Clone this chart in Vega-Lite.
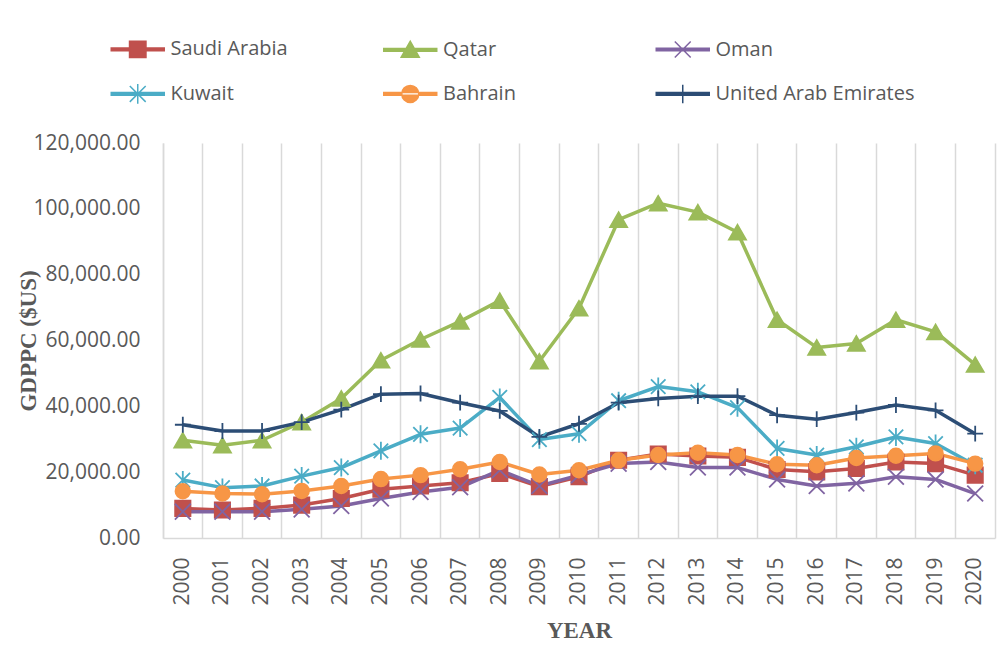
{
  "$schema": "https://vega.github.io/schema/vega-lite/v6.json",
  "width": 832,
  "height": 395,
  "autosize": {"type": "none"},
  "padding": {"left": 163, "top": 143, "right": 12, "bottom": 110},
  "background": "white",
  "config": {"view": {"stroke": null}, "font": "Open Sans"},
  "data": {"values": [
    {"year": "2000", "country": "Saudi Arabia", "gdppc": 9000},
    {"year": "2001", "country": "Saudi Arabia", "gdppc": 8500},
    {"year": "2002", "country": "Saudi Arabia", "gdppc": 9000},
    {"year": "2003", "country": "Saudi Arabia", "gdppc": 10000},
    {"year": "2004", "country": "Saudi Arabia", "gdppc": 12000},
    {"year": "2005", "country": "Saudi Arabia", "gdppc": 14800},
    {"year": "2006", "country": "Saudi Arabia", "gdppc": 15800},
    {"year": "2007", "country": "Saudi Arabia", "gdppc": 16800},
    {"year": "2008", "country": "Saudi Arabia", "gdppc": 19600},
    {"year": "2009", "country": "Saudi Arabia", "gdppc": 15600},
    {"year": "2010", "country": "Saudi Arabia", "gdppc": 18600},
    {"year": "2011", "country": "Saudi Arabia", "gdppc": 23600},
    {"year": "2012", "country": "Saudi Arabia", "gdppc": 25500},
    {"year": "2013", "country": "Saudi Arabia", "gdppc": 24900},
    {"year": "2014", "country": "Saudi Arabia", "gdppc": 24500},
    {"year": "2015", "country": "Saudi Arabia", "gdppc": 20800},
    {"year": "2016", "country": "Saudi Arabia", "gdppc": 20100},
    {"year": "2017", "country": "Saudi Arabia", "gdppc": 21100},
    {"year": "2018", "country": "Saudi Arabia", "gdppc": 23100},
    {"year": "2019", "country": "Saudi Arabia", "gdppc": 22600},
    {"year": "2020", "country": "Saudi Arabia", "gdppc": 19100},
    {"year": "2000", "country": "Qatar", "gdppc": 29700},
    {"year": "2001", "country": "Qatar", "gdppc": 28200},
    {"year": "2002", "country": "Qatar", "gdppc": 29700},
    {"year": "2003", "country": "Qatar", "gdppc": 35200},
    {"year": "2004", "country": "Qatar", "gdppc": 42400},
    {"year": "2005", "country": "Qatar", "gdppc": 54000},
    {"year": "2006", "country": "Qatar", "gdppc": 60300},
    {"year": "2007", "country": "Qatar", "gdppc": 65800},
    {"year": "2008", "country": "Qatar", "gdppc": 72100},
    {"year": "2009", "country": "Qatar", "gdppc": 53700},
    {"year": "2010", "country": "Qatar", "gdppc": 69800},
    {"year": "2011", "country": "Qatar", "gdppc": 96700},
    {"year": "2012", "country": "Qatar", "gdppc": 101700},
    {"year": "2013", "country": "Qatar", "gdppc": 99000},
    {"year": "2014", "country": "Qatar", "gdppc": 92900},
    {"year": "2015", "country": "Qatar", "gdppc": 66300},
    {"year": "2016", "country": "Qatar", "gdppc": 57900},
    {"year": "2017", "country": "Qatar", "gdppc": 59100},
    {"year": "2018", "country": "Qatar", "gdppc": 66300},
    {"year": "2019", "country": "Qatar", "gdppc": 62600},
    {"year": "2020", "country": "Qatar", "gdppc": 52700},
    {"year": "2000", "country": "Oman", "gdppc": 8000},
    {"year": "2001", "country": "Oman", "gdppc": 8000},
    {"year": "2002", "country": "Oman", "gdppc": 8000},
    {"year": "2003", "country": "Oman", "gdppc": 8700},
    {"year": "2004", "country": "Oman", "gdppc": 9700},
    {"year": "2005", "country": "Oman", "gdppc": 12000},
    {"year": "2006", "country": "Oman", "gdppc": 14000},
    {"year": "2007", "country": "Oman", "gdppc": 15400},
    {"year": "2008", "country": "Oman", "gdppc": 20600},
    {"year": "2009", "country": "Oman", "gdppc": 15800},
    {"year": "2010", "country": "Oman", "gdppc": 19100},
    {"year": "2011", "country": "Oman", "gdppc": 22600},
    {"year": "2012", "country": "Oman", "gdppc": 23100},
    {"year": "2013", "country": "Oman", "gdppc": 21400},
    {"year": "2014", "country": "Oman", "gdppc": 21400},
    {"year": "2015", "country": "Oman", "gdppc": 17800},
    {"year": "2016", "country": "Oman", "gdppc": 15800},
    {"year": "2017", "country": "Oman", "gdppc": 16600},
    {"year": "2018", "country": "Oman", "gdppc": 18600},
    {"year": "2019", "country": "Oman", "gdppc": 17800},
    {"year": "2020", "country": "Oman", "gdppc": 13500},
    {"year": "2000", "country": "Kuwait", "gdppc": 17600},
    {"year": "2001", "country": "Kuwait", "gdppc": 15300},
    {"year": "2002", "country": "Kuwait", "gdppc": 15800},
    {"year": "2003", "country": "Kuwait", "gdppc": 18800},
    {"year": "2004", "country": "Kuwait", "gdppc": 21400},
    {"year": "2005", "country": "Kuwait", "gdppc": 26500},
    {"year": "2006", "country": "Kuwait", "gdppc": 31500},
    {"year": "2007", "country": "Kuwait", "gdppc": 33400},
    {"year": "2008", "country": "Kuwait", "gdppc": 42700},
    {"year": "2009", "country": "Kuwait", "gdppc": 29900},
    {"year": "2010", "country": "Kuwait", "gdppc": 31700},
    {"year": "2011", "country": "Kuwait", "gdppc": 41700},
    {"year": "2012", "country": "Kuwait", "gdppc": 46000},
    {"year": "2013", "country": "Kuwait", "gdppc": 44400},
    {"year": "2014", "country": "Kuwait", "gdppc": 39600},
    {"year": "2015", "country": "Kuwait", "gdppc": 27200},
    {"year": "2016", "country": "Kuwait", "gdppc": 25200},
    {"year": "2017", "country": "Kuwait", "gdppc": 27700},
    {"year": "2018", "country": "Kuwait", "gdppc": 30700},
    {"year": "2019", "country": "Kuwait", "gdppc": 28700},
    {"year": "2020", "country": "Kuwait", "gdppc": 22100},
    {"year": "2000", "country": "Bahrain", "gdppc": 14200},
    {"year": "2001", "country": "Bahrain", "gdppc": 13500},
    {"year": "2002", "country": "Bahrain", "gdppc": 13300},
    {"year": "2003", "country": "Bahrain", "gdppc": 14300},
    {"year": "2004", "country": "Bahrain", "gdppc": 15800},
    {"year": "2005", "country": "Bahrain", "gdppc": 17900},
    {"year": "2006", "country": "Bahrain", "gdppc": 19100},
    {"year": "2007", "country": "Bahrain", "gdppc": 20900},
    {"year": "2008", "country": "Bahrain", "gdppc": 23100},
    {"year": "2009", "country": "Bahrain", "gdppc": 19300},
    {"year": "2010", "country": "Bahrain", "gdppc": 20600},
    {"year": "2011", "country": "Bahrain", "gdppc": 23600},
    {"year": "2012", "country": "Bahrain", "gdppc": 25200},
    {"year": "2013", "country": "Bahrain", "gdppc": 25900},
    {"year": "2014", "country": "Bahrain", "gdppc": 25200},
    {"year": "2015", "country": "Bahrain", "gdppc": 22400},
    {"year": "2016", "country": "Bahrain", "gdppc": 22100},
    {"year": "2017", "country": "Bahrain", "gdppc": 24300},
    {"year": "2018", "country": "Bahrain", "gdppc": 25000},
    {"year": "2019", "country": "Bahrain", "gdppc": 25700},
    {"year": "2020", "country": "Bahrain", "gdppc": 22600},
    {"year": "2000", "country": "United Arab Emirates", "gdppc": 34400},
    {"year": "2001", "country": "United Arab Emirates", "gdppc": 32500},
    {"year": "2002", "country": "United Arab Emirates", "gdppc": 32500},
    {"year": "2003", "country": "United Arab Emirates", "gdppc": 35200},
    {"year": "2004", "country": "United Arab Emirates", "gdppc": 39000},
    {"year": "2005", "country": "United Arab Emirates", "gdppc": 43700},
    {"year": "2006", "country": "United Arab Emirates", "gdppc": 43900},
    {"year": "2007", "country": "United Arab Emirates", "gdppc": 41100},
    {"year": "2008", "country": "United Arab Emirates", "gdppc": 38600},
    {"year": "2009", "country": "United Arab Emirates", "gdppc": 30700},
    {"year": "2010", "country": "United Arab Emirates", "gdppc": 34700},
    {"year": "2011", "country": "United Arab Emirates", "gdppc": 41100},
    {"year": "2012", "country": "United Arab Emirates", "gdppc": 42400},
    {"year": "2013", "country": "United Arab Emirates", "gdppc": 43100},
    {"year": "2014", "country": "United Arab Emirates", "gdppc": 43100},
    {"year": "2015", "country": "United Arab Emirates", "gdppc": 37300},
    {"year": "2016", "country": "United Arab Emirates", "gdppc": 36100},
    {"year": "2017", "country": "United Arab Emirates", "gdppc": 38100},
    {"year": "2018", "country": "United Arab Emirates", "gdppc": 40400},
    {"year": "2019", "country": "United Arab Emirates", "gdppc": 38800},
    {"year": "2020", "country": "United Arab Emirates", "gdppc": 31700}
  ]},
  "encoding": {
    "x": {
      "field": "year",
      "type": "ordinal",
      "scale": {"type": "band", "paddingInner": 0, "paddingOuter": 0},
      "axis": {
        "title": "YEAR",
        "titleFont": "Liberation Serif",
        "titleFontWeight": "bold",
        "titleFontSize": 23,
        "titleColor": "#595959",
        "titleY": 92,
        "titleBaseline": "middle",
        "labelAngle": -90,
        "labelFont": "Open Sans",
        "labelFontSize": 21,
        "labelColor": "#595959",
        "labelPadding": 19,
        "labelOverlap": false,
        "labelFlush": false,
        "bandPosition": 0,
        "ticks": false,
        "tickSize": 0,
        "grid": true,
        "gridColor": "#D9D9D9",
        "gridWidth": 1.5,
        "domainColor": "#D9D9D9",
        "domainWidth": 1.5
      }
    },
    "y": {
      "field": "gdppc",
      "type": "quantitative",
      "scale": {"domain": [0, 120000], "nice": false},
      "axis": null
    }
  },
  "layer": [
    {
      "mark": {"type": "line", "strokeWidth": 3.5, "strokeJoin": "round"},
      "encoding": {
        "y": {
          "field": "gdppc",
          "type": "quantitative",
          "axis": {
            "orient": "left",
            "values": [0, 20000, 40000, 60000, 80000, 100000, 120000],
            "format": ",.2f",
            "title": "GDPPC ($US)",
            "titleFont": "Liberation Serif",
            "titleFontWeight": "bold",
            "titleFontSize": 23,
            "titleColor": "#595959",
            "titleAngle": -90,
            "titleX": -135,
            "titleY": 197.5,
            "titleAlign": "center",
            "titleBaseline": "middle",
            "labelFont": "Open Sans",
            "labelFontSize": 21,
            "labelColor": "#595959",
            "labelPadding": 23,
            "ticks": false,
            "tickSize": 0,
            "grid": false,
            "domainColor": "#D9D9D9",
            "domainWidth": 1.5
          }
        },
        "color": {
          "field": "country",
          "type": "nominal",
          "scale": {
            "domain": ["Saudi Arabia", "Qatar", "Oman", "Kuwait", "Bahrain", "United Arab Emirates"],
            "range": ["#C0504D", "#9BBB59", "#8064A2", "#4BACC6", "#F79646", "#2C4D75"]
          },
          "legend": {
            "orient": "none",
            "direction": "horizontal",
            "legendX": -52.5,
            "legendY": -108.5,
            "title": null,
            "columns": 3,
            "gridAlign": "all",
            "columnPadding": 10.5,
            "rowPadding": 18.4,
            "padding": 0,
            "offset": 0,
            "symbolSize": 702,
            "symbolStrokeWidth": 1.5,
            "labelOffset": 32,
            "labelFont": "Open Sans",
            "labelFontSize": 20,
            "labelColor": "#595959",
            "labelLimit": 400,
            "encode": {
              "symbols": {
                "update": {
                  "shape": {"signal": "datum.value === 'Saudi Arabia' ? 'M-1,-0.1H3V0.1H-1Z M0.38,-0.62H1.62V0.62H0.38Z' : datum.value === 'Qatar' ? 'M-1,-0.1H3V0.1H-1Z M0.32,0.55L1,-0.65L1.68,0.55Z' : datum.value === 'Oman' ? 'M-1,-0.1H3V0.1H-1Z M0.4,-0.6L1.6,0.6M0.4,0.6L1.6,-0.6' : datum.value === 'Kuwait' ? 'M-1,-0.1H3V0.1H-1Z M0.4,-0.6L1.6,0.6M0.4,0.6L1.6,-0.6M1,-0.75L1,0.75' : datum.value === 'Bahrain' ? 'M-1,-0.1H3V0.1H-1Z M0.36,0A0.64,0.64 0 1,0 1.64,0A0.64,0.64 0 1,0 0.36,0Z' : 'M-1,-0.1H3V0.1H-1Z M1,-0.7L1,0.7'"},
                  "size": {"value": 702},
                  "fill": {"scale": "color", "field": "value"},
                  "stroke": {"scale": "color", "field": "value"},
                  "strokeWidth": {"value": 1.5},
                  "opacity": {"value": 1}
                }
              }
            }
          }
        }
      }
    },
    {
      "transform": [{"filter": "datum.country === 'Saudi Arabia'"}],
      "mark": {"type": "point", "shape": "square", "filled": true, "opacity": 1, "color": "#C0504D", "stroke": "#C0504D", "strokeWidth": 1.6, "size": 240},
      "encoding": {
        "y": {
          "field": "gdppc",
          "type": "quantitative",
          "axis": {
            "orient": "right",
            "labels": false,
            "ticks": false,
            "grid": false,
            "title": null,
            "domainColor": "#D9D9D9",
            "domainWidth": 1.5
          }
        }
      }
    },
    {
      "transform": [{"filter": "datum.country === 'Qatar'"}],
      "mark": {"type": "point", "shape": "triangle-up", "filled": true, "opacity": 1, "color": "#9BBB59", "stroke": "#9BBB59", "strokeWidth": 1.6, "size": 300},
      "encoding": {"y": {"field": "gdppc", "type": "quantitative", "axis": null}}
    },
    {
      "transform": [{"filter": "datum.country === 'Oman'"}],
      "mark": {"type": "point", "shape": "M-1,-1L1,1M-1,1L1,-1", "filled": true, "opacity": 1, "color": "#8064A2", "stroke": "#8064A2", "strokeWidth": 1.8, "size": 250},
      "encoding": {"y": {"field": "gdppc", "type": "quantitative", "axis": null}}
    },
    {
      "transform": [{"filter": "datum.country === 'Kuwait'"}],
      "mark": {"type": "point", "shape": "M-1,-1L1,1M-1,1L1,-1M0,-1.25L0,1.25", "filled": true, "opacity": 1, "color": "#4BACC6", "stroke": "#4BACC6", "strokeWidth": 1.8, "size": 210},
      "encoding": {"y": {"field": "gdppc", "type": "quantitative", "axis": null}}
    },
    {
      "transform": [{"filter": "datum.country === 'Bahrain'"}],
      "mark": {"type": "point", "shape": "circle", "filled": true, "opacity": 1, "color": "#F79646", "stroke": "#F79646", "strokeWidth": 1.6, "size": 220},
      "encoding": {"y": {"field": "gdppc", "type": "quantitative", "axis": null}}
    },
    {
      "transform": [{"filter": "datum.country === 'United Arab Emirates'"}],
      "mark": {"type": "point", "shape": "M0,-1L0,1M-1,0L1,0", "filled": true, "opacity": 1, "color": "#2C4D75", "stroke": "#2C4D75", "strokeWidth": 1.8, "size": 250},
      "encoding": {"y": {"field": "gdppc", "type": "quantitative", "axis": null}}
    }
  ],
  "resolve": {"axis": {"y": "independent"}}
}
